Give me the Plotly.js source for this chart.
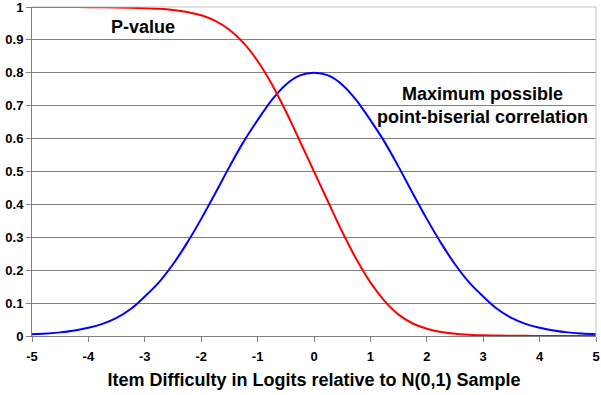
<!DOCTYPE html>
<html>
<head>
<meta charset="utf-8">
<script src="https://cdn.plot.ly/plotly-3.0.1.min.js"></script>
<style>html,body{margin:0;padding:0;background:#fff}#chart{width:601px;height:395px}</style>
</head>
<body>
<div id="chart"></div>
<script>
// Item difficulty (logits relative to N(0,1) sample)
var difficulty = [-5,-4.75,-4.5,-4.25,-4,-3.75,-3.5,-3.25,-3,-2.75,-2.5,-2.25,-2,-1.75,-1.5,-1.25,-1,-0.75,-0.5,-0.25,0,
                  0.25,0.5,0.75,1,1.25,1.5,1.75,2,2.25,2.5,2.75,3,3.25,3.5,3.75,4,4.25,4.5,4.75,5];
// P-value (red)
var pValue = [1.0,1.0,0.9999,0.9998,0.9996,0.9993,0.9988,0.998,0.9965,0.9945,0.991,0.985,0.975,0.958,0.931,0.891,0.836,0.766,0.683,0.592,0.5,
              0.408,0.317,0.234,0.163,0.107,0.065,0.038,0.022,0.012,0.007,0.004,0.002,0.0012,0.0007,0.0004,0.0002,0.0001,0.0001,0.0,0.0];
// Maximum possible point-biserial correlation (blue)
var maxPtBis = [0.005,0.0075,0.011,0.017,0.025,0.037,0.055,0.082,0.12,0.163,0.218,0.283,0.356,0.434,0.514,0.59,0.656,0.717,0.764,0.792,0.80,
                0.792,0.764,0.717,0.656,0.59,0.514,0.434,0.356,0.283,0.218,0.163,0.12,0.082,0.055,0.037,0.025,0.017,0.011,0.0075,0.005];
var xTicks = [-5,-4,-3,-2,-1,0,1,2,3,4,5];
var yTicks = [0,0.1,0.2,0.3,0.4,0.5,0.6,0.7,0.8,0.9,1];
var yTickText = ['0','0.1','0.2','0.3','0.4','0.5','0.6','0.7','0.8','0.9','1'];

var traces = [
  {x: difficulty, y: maxPtBis, mode: 'lines', line: {color: '#0000FF', width: 2, shape: 'spline', smoothing: 1}, name: 'Maximum possible point-biserial correlation', hoverinfo: 'x+y'},
  {x: difficulty, y: pValue, mode: 'lines', line: {color: '#FF0000', width: 2, shape: 'spline', smoothing: 1}, name: 'P-value', hoverinfo: 'x+y'}
];

var fam = 'Liberation Sans, Arial, sans-serif';
var tickFont = {family: fam, size: 13, color: '#000', weight: 'bold'};

var layout = {
  width: 601, height: 395,
  margin: {l: 32, r: 5, t: 7, b: 59},
  paper_bgcolor: '#fff', plot_bgcolor: '#fff',
  showlegend: false,
  font: {family: fam, color: '#000'},
  xaxis: {
    range: [-5, 5], tickvals: xTicks, ticktext: xTicks.map(String),
    showgrid: false, zeroline: false,
    showline: true, linecolor: '#808080', linewidth: 1,
    ticks: 'outside', ticklen: 5, tickcolor: '#808080',
    tickfont: tickFont, ticklabelstandoff: 3, ticklabeloverflow: 'allow',
    title: {text: 'Item Difficulty in Logits relative to N(0,1) Sample', font: {family: fam, size: 18, color: '#000', weight: 'bold'}, standoff: 10}
  },
  yaxis: {
    range: [0, 1], tickvals: yTicks, ticktext: yTickText,
    showgrid: true, gridcolor: '#808080', gridwidth: 1, zeroline: false,
    showline: true, linecolor: '#808080', linewidth: 1,
    ticks: 'outside', ticklen: 5, tickcolor: '#808080',
    tickfont: tickFont, ticklabeloverflow: 'allow'
  },
  shapes: [
    {type: 'line', xref: 'paper', yref: 'paper', x0: 0, x1: 1, y0: 1, y1: 1, line: {color: '#C0C0C0', width: 1}},
    {type: 'line', xref: 'paper', yref: 'paper', x0: 1, x1: 1, y0: 0, y1: 1, line: {color: '#C0C0C0', width: 1}}
  ],
  annotations: [
    {x: -3.03, y: 0.94, xref: 'x', yref: 'y', text: 'P-value', showarrow: false,
     font: {family: fam, size: 18, color: '#000', weight: 'bold'}},
    {x: 2.99, y: 0.70, xref: 'x', yref: 'y', text: 'Maximum possible<br>point-biserial correlation', showarrow: false,
     font: {family: fam, size: 18, color: '#000', weight: 'bold'}, align: 'center'}
  ]
};

Plotly.newPlot('chart', traces, layout, {displayModeBar: false, staticPlot: true});
</script>
</body>
</html>
